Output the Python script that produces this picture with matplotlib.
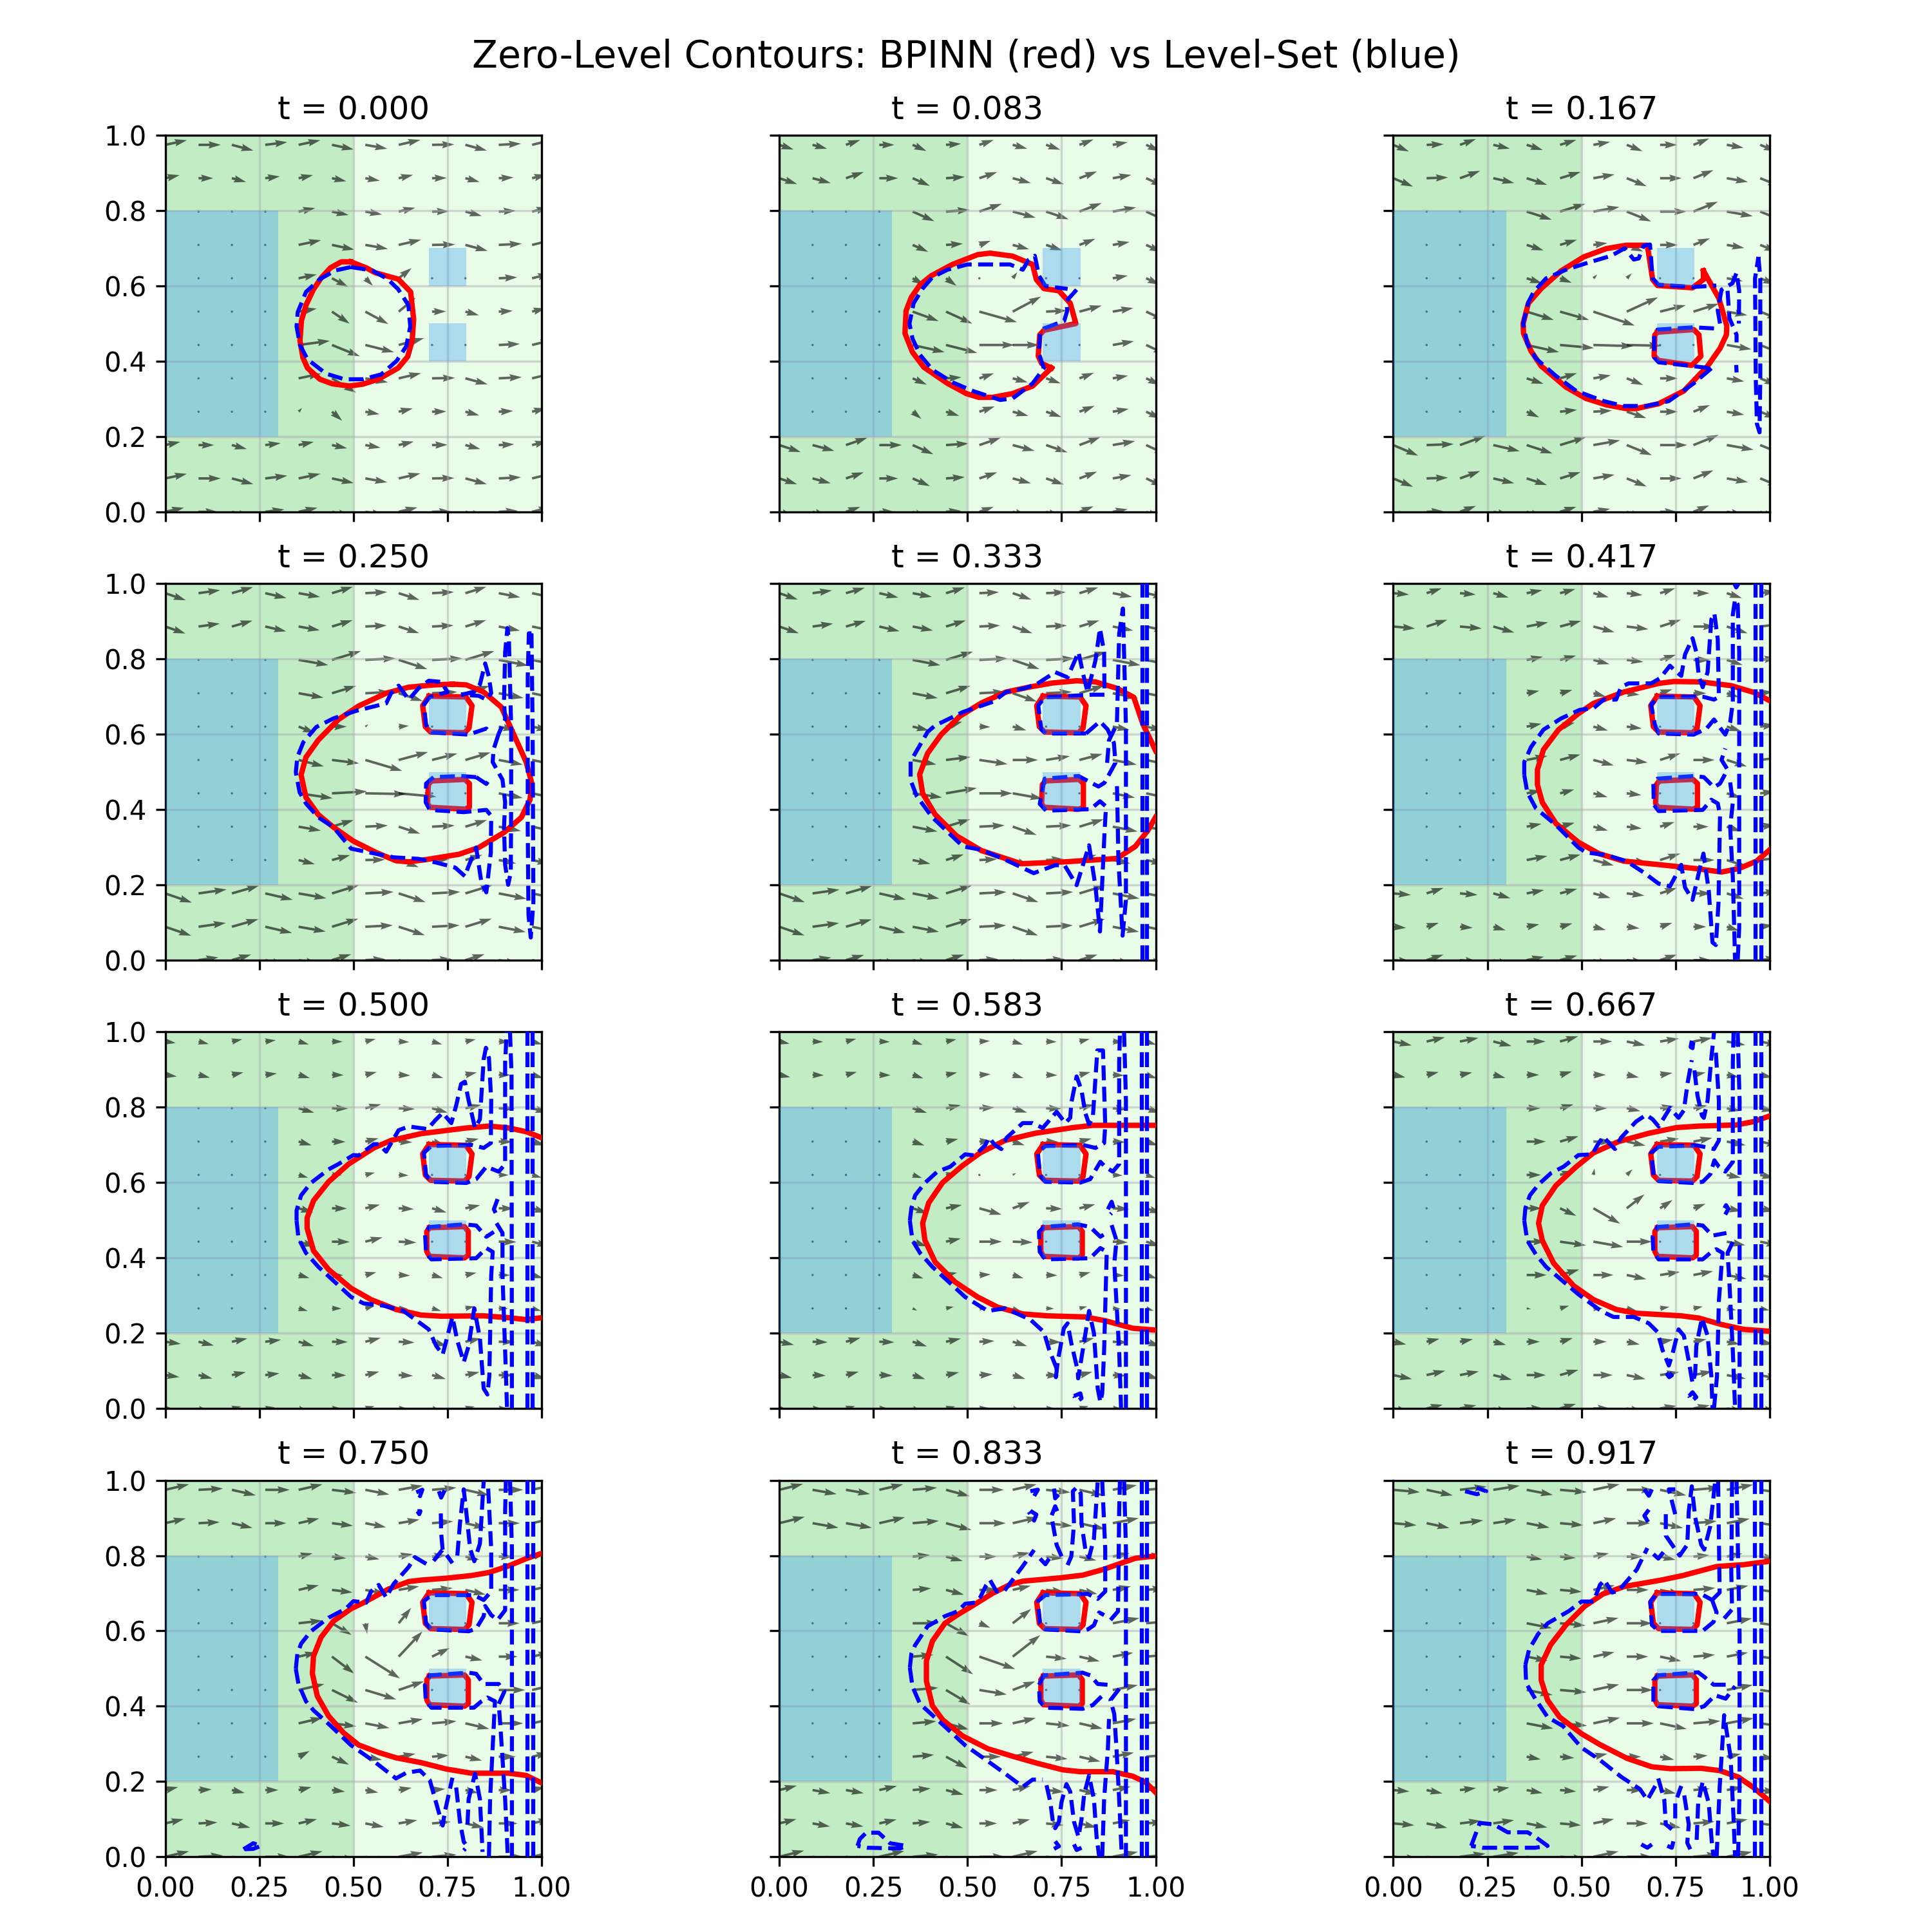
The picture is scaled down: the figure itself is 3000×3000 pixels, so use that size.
import numpy as np
import matplotlib
matplotlib.use("Agg")
import matplotlib.pyplot as plt
from matplotlib.patches import Rectangle

times = [0.0, 0.083, 0.167, 0.25, 0.333, 0.417, 0.5, 0.583, 0.667, 0.75, 0.833, 0.917]

# red contour around the two small boxes, shared by the later frames
red_box_top = [(.701,.701),(.799,.699),(.815,.676),(.807,.616),(.795,.604),(.705,.606),(.691,.620),(.684,.676),(.701,.701)]
red_box_low_a = [(.707,.476),(.796,.480),(.808,.469),(.808,.406),(.796,.401),(.703,.406),(.697,.416),(.699,.466),(.707,.476)]
red_box_low_b = [(.702,.480),(.795,.483),(.805,.470),(.805,.407),(.795,.400),(.702,.404),(.695,.417),(.695,.470),(.702,.480)]

# t = 0.000
red_0 = [[(.493,.664),(.468,.664),(.439,.648),(.415,.622),(.394,.591),(.374,.549),(.362,.508),(.358,.454),(.366,.409),(.378,.382),(.411,.352),(.444,.340),(.489,.334),(.525,.339),(.566,.352),(.619,.382),(.644,.412),(.656,.454),(.660,.511),(.652,.584),(.619,.618),(.558,.635),(.534,.648),(.493,.664)]]
blue_0 = [[(.493,.650),(.452,.641),(.411,.618),(.374,.584),(.352,.530),(.349,.492),(.358,.443),(.378,.405),(.427,.367),(.476,.352),(.525,.352),(.574,.365),(.615,.401),(.640,.439),(.651,.492),(.646,.549),(.619,.591),(.591,.618),(.550,.641),(.493,.650)]]
dir_0 = [12,0,-15,7,12,-12,-10,13,1,-15,3,14]
len_0 = [.051,.059,.041,.038,.061,.056,.037,.049,.061,.045,.039,.059]
fix_0 = [(7,5,.043,-.023),(7,6,.020,-.020),(7,7,.034,.027),(6,4,.048,.008),(6,5,.047,-.032),(6,6,.061,-.033),(6,7,.045,.037),
         (5,4,.083,.011),(5,5,.074,-.030),(5,6,.076,-.019),(5,7,.067,.018),(4,5,.064,-.038),(3,4,.009,.010),(3,5,.027,-.024)]

# t = 0.083
red_1 = [[(.723,.382),(.673,.334),(.620,.314),(.567,.304),(.530,.304),(.497,.314),(.447,.341),(.384,.384),(.354,.424),(.334,.474),(.337,.534),(.351,.570),(.374,.603),(.404,.627),(.460,.657),(.527,.683),(.560,.687),(.620,.679),(.673,.657),(.683,.617),(.703,.593),(.743,.587),(.773,.554),(.788,.500),(.703,.482),(.692,.470),(.688,.414),(.697,.394),(.723,.382)]]
blue_1 = [[(.790,.590),(.763,.560),(.765,.534),(.757,.507),(.703,.487),(.693,.474),(.690,.420),(.703,.381),(.673,.341),(.620,.301),(.587,.297),(.514,.321),(.460,.344),(.407,.377),(.374,.417),(.354,.460),(.346,.500),(.357,.554),(.381,.593),(.407,.623),(.447,.643),(.500,.657),(.554,.657),(.613,.657),(.647,.643),(.663,.670),(.679,.680),(.690,.627),(.707,.600),(.766,.592)]]
dir_1 = [-18,-15,19,0,-24,4,19,-15,-19,21,10,-25]
len_1 = [.040,.050,.060,.043,.041,.057,.055,.040,.045,.063,.050,.040]
fix_1 = [(6,4,.069,-.025),(6,5,.070,-.032),(6,6,.100,-.028),(6,7,.075,.040),(6,8,.055,.003),(6,9,.059,.016),
         (5,4,.085,-.019),(5,5,.083,-.021),(5,6,.093,0),(5,7,.070,0),(7,4,.030,-.017),(7,5,.028,-.020),(7,6,.006,.001),(7,7,.012,.016),
         (3,4,.023,-.019),(3,5,.035,-.011),(8,6,.030,.011)]

# t = 0.167
red_2 = [[(.824,.640),(.865,.567),(.886,.494),(.885,.470),(.868,.434),(.835,.387),(.772,.321),(.705,.287),(.645,.274),(.619,.274),(.566,.284),(.512,.301),(.459,.331),(.393,.387),(.366,.427),(.346,.474),(.345,.500),(.359,.554),(.393,.593),(.446,.640),(.506,.677),(.566,.699),(.619,.708),(.675,.708),(.689,.617),(.702,.601),(.795,.595),(.824,.617),(.824,.640)],
         [(.702,.477),(.798,.484),(.812,.470),(.817,.413),(.793,.389),(.705,.402),(.693,.414),(.695,.470),(.702,.477)]]
blue_2 = [[(.845,.381),(.798,.341),(.732,.294),(.672,.281),(.612,.281),(.559,.294),(.486,.321),(.432,.361),(.379,.407),(.356,.447),(.345,.500),(.359,.557),(.373,.584),(.406,.620),(.459,.643),(.512,.660),(.579,.680),(.615,.700),(.639,.670),(.652,.673),(.665,.707),(.682,.710),(.689,.620),(.705,.603),(.795,.597),(.858,.601)],
          [(.852,.487),(.798,.490),(.702,.484),(.693,.470),(.693,.410),(.705,.397),(.795,.387),(.845,.381)],
          [(.868,.500),(.862,.535),(.872,.590),(.901,.607),(.912,.635),(.919,.587),(.918,.500)],
          [(.888,.587),(.893,.514),(.912,.470),(.912,.450)],
          [(.911,.390),(.912,.370)],
          [(.970,.677),(.975,.620),(.975,.354),(.973,.211),(.966,.234),(.963,.354),(.961,.620),(.970,.677)]]
dir_2 = [-23,2,20,-13,-18,17,10,-22,0,22,-10,-22]
len_2 = [.045,.057,.072,.047,.047,.066,.055,.043,.047,.070,.057,.045]
fix_2 = [(6,4,.072,-.022),(6,5,.077,-.022),(6,6,.110,-.037),(6,7,.083,.038),(6,8,.068,.017),(6,9,.067,.021),
         (5,4,.086,-.019),(5,5,.090,-.008),(5,6,.106,-.003),(5,7,.092,-.002),(7,5,.031,-.012),(7,6,.010,.010),(7,7,.013,.013),
         (3,4,.033,-.015),(3,5,.045,.005),(3,6,.049,.003),(3,7,.052,-.017),(8,6,.037,.005)]

# t = 0.250
red_3 = [[(.763,.733),(.800,.731),(.846,.712),(.893,.672),(.926,.599),(.959,.526),(.974,.469),(.969,.426),(.946,.379),(.900,.339),(.833,.299),(.780,.281),(.693,.267),(.647,.261),(.613,.264),(.560,.286),(.500,.316),(.447,.353),(.407,.386),(.374,.432),(.361,.492),(.374,.539),(.407,.585),(.460,.639),(.514,.675),(.587,.709),(.647,.725),(.713,.731),(.763,.733)],
         red_box_top, red_box_low_a]
blue_3 = [[(.796,.223),(.770,.246),(.720,.259),(.673,.269),(.607,.273),(.567,.281),(.494,.296),(.447,.353),(.407,.379),(.374,.416),(.357,.446),(.347,.499),(.351,.539),(.367,.579),(.401,.619),(.447,.642),(.507,.662),(.587,.682),(.600,.709),(.620,.729),(.647,.692),(.673,.722),(.700,.742),(.733,.739),(.750,.712),(.703,.699),(.687,.679),(.693,.625),(.707,.605),(.806,.599),(.853,.615),(.866,.602)],
          [(.786,.705),(.820,.712),(.836,.732),(.850,.788),(.860,.752),(.866,.709),(.853,.692),(.833,.702),(.786,.705)],
          [(.886,.602),(.872,.559),(.870,.526),(.896,.479),(.903,.419),(.900,.353),(.903,.253),(.911,.200),(.918,.233),(.919,.419),(.919,.619),(.913,.852),(.909,.882),(.903,.818),(.900,.685),(.903,.639),(.886,.602)],
          [(.826,.486),(.786,.489),(.713,.486),(.693,.469),(.692,.419),(.703,.399),(.793,.393),(.853,.399),(.866,.383),(.865,.286),(.853,.180),(.840,.206),(.826,.299),(.806,.250),(.796,.223)],
          [(.826,.486),(.853,.468),(.866,.486)],
          [(.973,.868),(.976,.619),(.978,.153),(.971,.060),(.965,.120),(.963,.353),(.963,.752),(.966,.868),(.973,.868)]]
dir_3 = [-19,8,16,-13,-10,17,3,-18,3,17,-11,-12]
len_3 = [.053,.073,.075,.047,.060,.065,.065,.045,.067,.080,.057,.058]
fix_3 = [(6,4,.067,-.017),(6,5,.072,-.009),(6,6,.098,-.029),(6,7,.078,.021),(6,8,.067,.017),(6,9,.067,.020),
         (5,4,.090,-.013),(5,5,.093,.005),(5,6,.108,-.002),(5,7,.100,-.009),(7,4,.043,-.017),(7,5,.039,0),(7,6,.008,.006),(7,7,.027,.002),
         (3,4,.043,-.011),(3,5,.048,.013),(3,6,.052,.001),(3,7,.053,-.019)]

# t = 0.333
red_4 = [[(1.0,.556),(.966,.627),(.942,.698),(.897,.722),(.840,.739),(.790,.742),(.725,.736),(.668,.726),(.602,.712),(.537,.683),(.480,.648),(.430,.599),(.394,.549),(.373,.493),(.381,.443),(.414,.387),(.471,.330),(.537,.291),(.643,.256),(.758,.261),(.897,.270),(.946,.302),(.979,.344),(1.0,.380)],
         red_box_top, red_box_low_a]
blue_4 = [[(.815,.602),(.852,.634),(.872,.613),(.889,.577),(.893,.524),(.864,.471),(.848,.461),(.795,.489),(.705,.482),(.692,.415),(.709,.397),(.827,.401),(.852,.422),(.868,.408),(.864,.337),(.852,.076),(.840,.196),(.823,.305),(.790,.199),(.758,.252),(.733,.252),(.676,.231),(.602,.266),(.537,.293),(.488,.302),(.406,.380),(.365,.436),(.349,.478),(.349,.528),(.394,.606),(.414,.623),(.488,.659),(.570,.687),(.602,.712),(.651,.722),(.684,.733),(.733,.765),(.766,.751),(.795,.818),(.807,.761),(.819,.712),(.840,.796),(.852,.881),(.863,.818),(.864,.705),(.831,.705),(.705,.698),(.688,.676),(.696,.613),(.709,.602),(.815,.602)],
          [(.871,.524),(.876,.584),(.897,.627),(.903,.867),(.913,.934),(.921,.620),(.921,.160),(.912,.065),(.901,.266),(.897,.475)],
          [(.965,0),(.965,1)], [(.977,0),(.977,1)]]
dir_4 = [-19,8,16,-13,-11,17,3,-19,3,17,-11,-12]
len_4 = [.050,.071,.072,.047,.067,.060,.065,.045,.068,.075,.055,.052]
fix_4 = [(6,4,.063,-.012),(6,5,.065,.008),(6,6,.075,-.011),(6,7,.067,0),(6,8,.063,.010),(6,9,.061,.016),
         (5,4,.078,-.011),(5,5,.082,.014),(5,6,.088,0),(5,7,.079,-.014),(7,4,.043,-.010),(7,6,.029,-.001),(7,7,.036,-.010),
         (3,4,.047,-.010),(3,5,.047,.015)]

# t = 0.417
red_5 = [[(1.0,.689),(.958,.711),(.898,.729),(.818,.739),(.745,.740),(.705,.735),(.612,.712),(.532,.682),(.492,.655),(.439,.612),(.399,.559),(.383,.506),(.383,.466),(.396,.419),(.432,.363),(.492,.313),(.546,.283),(.612,.263),(.712,.253),(.805,.243),(.872,.234),(.918,.243),(.965,.263),(1.0,.293)],
         red_box_top, red_box_low_a]
blue_5 = [[(.348,.492),(.356,.446),(.379,.403),(.432,.359),(.492,.299),(.512,.286),(.566,.279),(.619,.263),(.665,.233),(.705,.203),(.735,.196),(.755,.233),(.765,.253),(.775,.193),(.795,.160),(.815,.246),(.824,.283),(.838,.186),(.848,.047),(.857,.040),(.864,.153),(.868,.386),(.862,.416),(.845,.426),(.822,.399),(.705,.396),(.692,.413),(.691,.469),(.702,.482),(.798,.489),(.825,.486),(.852,.459),(.868,.469),(.888,.506),(.872,.532),(.882,.562)],
          [(.348,.492),(.348,.526),(.366,.566),(.399,.612),(.446,.642),(.496,.665),(.532,.669),(.559,.692),(.592,.692),(.605,.725),(.625,.735),(.685,.735),(.709,.749),(.735,.782),(.749,.768),(.765,.755),(.775,.812),(.795,.855),(.805,.818),(.812,.752),(.822,.725),(.835,.765),(.845,.905),(.853,.921),(.862,.852),(.865,.699),(.852,.692),(.825,.699),(.805,.700),(.705,.699),(.685,.679),(.695,.625),(.705,.602),(.798,.599),(.832,.615),(.852,.639),(.872,.612),(.882,.599),(.895,.632),(.902,.685),(.902,.918),(.908,.958),(.915,.945),(.919,.818),(.919,.086),(.915,0)],
          [(.895,.472),(.902,.419),(.895,.353),(.902,.220),(.908,0)],
          [(.906,1),(.911,.99),(.917,1)],
          [(.963,0),(.963,1)], [(.977,0),(.977,1)]]
dir_5 = [-5,18,-5,-16,11,15,-15,-7,18,0,-18,7]
len_5 = [.047,.034,.047,.056,.040,.039,.056,.040,.034,.044,.058,.042]
fix_5 = []

# t = 0.500
red_6 = [[(1.0,.719),(.959,.735),(.913,.745),(.860,.750),(.800,.745),(.680,.730),(.600,.712),(.554,.692),(.487,.649),(.434,.602),(.394,.552),(.377,.506),(.377,.479),(.394,.419),(.434,.369),(.494,.319),(.547,.289),(.613,.263),(.680,.248),(.733,.245),(.846,.246),(.913,.241),(.959,.236),(1.0,.241)],
         red_box_top, red_box_low_b]
blue_6 = [[(.349,.499),(.354,.452),(.374,.413),(.407,.376),(.494,.296),(.527,.279),(.580,.273),(.633,.259),(.700,.210),(.720,.166),(.737,.143),(.763,.243),(.776,.180),(.793,.123),(.806,.166),(.821,.266),(.836,.186),(.846,.053),(.856,.037),(.861,.086),(.866,.353),(.870,.416),(.853,.426),(.826,.399),(.707,.396),(.693,.413),(.690,.469),(.703,.482),(.793,.489),(.826,.486),(.853,.456),(.873,.469)],
          [(.349,.499),(.349,.526),(.361,.566),(.387,.599),(.434,.635),(.460,.649),(.500,.673),(.514,.672),(.554,.702),(.567,.702),(.587,.682),(.620,.739),(.647,.749),(.697,.742),(.717,.765),(.737,.785),(.760,.758),(.773,.805),(.786,.862),(.796,.868),(.806,.818),(.823,.745),(.836,.768),(.846,.928),(.852,.958),(.860,.931),(.866,.818),(.865,.705),(.846,.692),(.813,.700),(.707,.697),(.687,.679),(.693,.619),(.707,.602),(.800,.599),(.826,.609),(.853,.642),(.886,.629),(.903,.649),(.903,.918),(.907,1)],
          [(.916,1),(.920,.885),(.921,0)],
          [(.880,.492),(.896,.466),(.896,.353),(.903,.153),(.908,0)],
          [(.883,.556),(.873,.529),(.883,.509)],
          [(.963,0),(.963,1)], [(.976,0),(.976,1)]]
dir_6 = [-8,-14,12,7,-16,-1,14,-3,-16,12,-1,-16]
len_6 = [.025,.038,.042,.025,.030,.047,.040,.026,.036,.043,.031,.028]
fix_6 = []

# t = 0.583
red_7 = [[(1.0,.752),(.913,.752),(.833,.752),(.780,.746),(.680,.731),(.600,.712),(.534,.679),(.487,.645),(.434,.600),(.397,.546),(.381,.492),(.387,.447),(.414,.389),(.467,.336),(.527,.296),(.580,.269),(.647,.251),(.713,.246),(.813,.243),(.866,.233),(.939,.213),(1.0,.208)],
         red_box_top, red_box_low_b]
blue_7 = [[(.347,.499),(.354,.446),(.374,.413),(.407,.376),(.494,.296),(.554,.259),(.600,.266),(.667,.236),(.703,.203),(.717,.156),(.737,.106),(.735,.083),(.740,.126),(.756,.213),(.766,.226),(.776,.173),(.793,.100),(.794,.080),(.806,.153),(.823,.259),(.836,.200),(.846,.053),(.853,.017),(.858,.040),(.863,.153),(.870,.416),(.853,.426),(.826,.399),(.707,.396),(.692,.416),(.690,.469),(.703,.482),(.793,.489),(.826,.482),(.853,.456),(.873,.469)],
          [(.883,.487),(.896,.446),(.890,.386),(.903,.153),(.908,0)],
          [(.873,.529),(.883,.549),(.890,.526),(.880,.516)],
          [(.783,.033),(.800,.040),(.803,.027),(.793,.020),(.783,.033)],
          [(.347,.499),(.351,.532),(.361,.566),(.387,.599),(.420,.629),(.454,.642),(.494,.675),(.520,.672),(.547,.699),(.557,.719),(.574,.699),(.590,.689),(.604,.719),(.647,.758),(.673,.758),(.700,.745),(.737,.788),(.760,.758),(.773,.772),(.776,.812),(.790,.882),(.803,.845),(.813,.785),(.823,.755),(.833,.772),(.845,.951),(.860,.951),(.866,.752),(.863,.705),(.840,.692),(.806,.700),(.707,.697),(.687,.679),(.693,.619),(.707,.602),(.800,.600),(.826,.609),(.853,.655),(.866,.642),(.886,.629),(.903,.649),(.903,.918),(.905,1)],
          [(.916,1),(.921,.818),(.921,0)],
          [(.963,0),(.963,1)], [(.977,0),(.977,1)]]
dir_7 = [-12,-2,15,-2,-18,12,3,-17,-2,14,-3,-18]
len_7 = [.025,.035,.040,.021,.030,.040,.043,.026,.033,.040,.030,.028]
fix_7 = [(6,6,.059,-.017),(6,7,.045,.017),(5,6,.060,0),(5,7,.053,-.002),(7,6,.002,0),(7,7,.009,.005),(3,4,.012,-.006)]

# t = 0.667
red_8 = [[(1.0,.777),(.958,.762),(.911,.753),(.812,.750),(.752,.746),(.679,.731),(.599,.709),(.532,.679),(.486,.642),(.432,.592),(.396,.539),(.386,.492),(.396,.446),(.426,.386),(.479,.326),(.532,.289),(.592,.263),(.645,.253),(.765,.246),(.812,.240),(.872,.223),(.931,.210),(1.0,.205)],
         red_box_top, red_box_low_b]
blue_8 = [[(.348,.499),(.356,.446),(.379,.409),(.406,.376),(.492,.303),(.552,.259),(.585,.243),(.639,.243),(.679,.226),(.702,.203),(.715,.156),(.732,.114),(.742,.146),(.758,.210),(.772,.193),(.785,.126),(.795,.067),(.802,.093),(.805,.166),(.820,.240),(.835,.193),(.845,.086),(.848,0)],
          [(.852,0),(.860,.086),(.865,.286),(.872,.379),(.875,.413),(.858,.423),(.842,.413),(.822,.396),(.705,.396),(.691,.416),(.689,.456),(.702,.482),(.795,.489),(.822,.486),(.848,.459),(.885,.466)],
          [(.902,.442),(.888,.413),(.892,.353),(.902,.153),(.908,0)],
          [(.348,.499),(.351,.532),(.363,.566),(.386,.595),(.419,.625),(.452,.642),(.492,.673),(.529,.675),(.542,.699),(.558,.722),(.576,.702),(.589,.689),(.605,.719),(.645,.762),(.672,.780),(.689,.768),(.705,.749),(.735,.798),(.758,.772),(.772,.792),(.782,.865),(.793,.925)],
          [(.800,.898),(.808,.832),(.820,.778),(.825,.772),(.835,.818),(.845,.931),(.852,.998)],
          [(.857,.945),(.865,.818),(.865,.712),(.852,.689),(.825,.695),(.805,.699),(.705,.695),(.685,.679),(.692,.619),(.705,.604),(.795,.599),(.822,.602),(.842,.622),(.853,.659),(.865,.642),(.882,.629),(.902,.655),(.902,.918),(.904,1)],
          [(.915,1),(.920,.818),(.920,0)],
          [(.880,.532),(.884,.540),(.890,.530),(.882,.515)],
          [(.786,.033),(.795,.043),(.805,.030),(.793,.020),(.786,.033)],
          [(.733,.094),(.740,.088),(.733,.083),(.728,.090),(.733,.094)],
          [(.793,.977),(.790,.960),(.795,.957),(.797,.973)],
          [(.963,0),(.963,1)], [(.977,0),(.977,1)]]
dir_8 = [-12,13,11,-14,0,16,0,-12,9,11,-11,-12]
len_8 = [.044,.051,.035,.025,.053,.050,.040,.038,.051,.037,.033,.050]
fix_8 = [(6,5,.043,-.020),(6,6,.071,-.041),(6,7,.047,.037),(6,8,.033,.022),(6,9,.032,.012),(5,5,.069,-.010),(5,6,.079,-.014),(5,7,.067,0),
         (7,6,.003,.017),(7,7,.015,.015),(3,4,.011,-.002)]

# t = 0.750
red_9 = [[(1.0,.806),(.959,.792),(.913,.773),(.860,.755),(.813,.747),(.747,.740),(.680,.735),(.647,.731),(.593,.711),(.527,.675),(.494,.659),(.447,.626),(.414,.583),(.394,.533),(.391,.487),(.404,.427),(.434,.374),(.474,.329),(.514,.297),(.567,.277),(.613,.263),(.680,.250),(.747,.233),(.813,.222),(.913,.222),(.959,.216),(1.0,.196)],
         red_box_top, red_box_low_b]
blue_9 = [[(.347,.499),(.354,.459),(.374,.413),(.394,.389),(.434,.353),(.494,.296),(.554,.254),(.613,.208),(.640,.223),(.677,.229),(.703,.203),(.717,.153),(.733,.096),(.737,.083),(.743,.120),(.763,.210)],
          [(.773,.184),(.783,.093),(.793,.040),(.803,.027),(.793,.017)],
          [(.803,.086),(.806,.153),(.823,.221),(.836,.153),(.843,.013)],
          [(.860,0),(.863,.153),(.873,.353),(.876,.413),(.856,.423),(.840,.413),(.820,.396),(.707,.396),(.692,.416),(.690,.456),(.703,.482),(.806,.489),(.826,.486),(.846,.459),(.886,.459),(.901,.439),(.886,.406),(.890,.353),(.903,.153),(.910,0)],
          [(.347,.499),(.351,.539),(.361,.566),(.387,.599),(.434,.635),(.480,.659),(.500,.679),(.534,.675),(.547,.705),(.567,.722),(.587,.689),(.607,.725),(.647,.770),(.663,.796),(.707,.770)],
          [(.713,.786),(.737,.816),(.763,.780)],
          [(.737,.816),(.733,.860),(.732,.920)],
          [(.776,.800),(.783,.886),(.793,.976),(.803,.886),(.810,.818),(.821,.785),(.836,.832),(.846,.998)],
          [(.858,.978),(.866,.818),(.866,.705),(.846,.682),(.820,.695),(.707,.695),(.687,.679),(.693,.619),(.707,.604),(.806,.599),(.826,.606),(.846,.639),(.850,.666),(.866,.642),(.883,.629),(.903,.655),(.903,.918),(.905,1)],
          [(.916,1),(.921,.818),(.921,0)],
          [(.667,.968),(.683,.975),(.677,.958),(.667,.968)],
          [(.670,.918),(.678,.918),(.675,.910),(.670,.918)],
          [(.727,.971),(.733,.954),(.743,.975)],
          [(.208,.020),(.234,.036),(.254,.029),(.234,.021),(.208,.020)],
          [(.963,0),(.963,1)], [(.977,0),(.977,1)]]
dir_9 = [13,3,-13,0,13,-7,-11,10,5,-13,0,13]
len_9 = [.065,.050,.035,.045,.065,.070,.050,.055,.055,.038,.056,.065]
fix_9 = [(6,5,.059,-.045),(6,6,.092,-.058),(6,7,.063,.067),(6,8,.047,.023),(6,9,.045,-.010),(5,5,.069,-.034),(5,6,.082,-.025),(5,7,.067,.023),
         (7,6,.005,-.028),(7,7,.033,.041),(7,5,.052,-.031),(7,4,.063,.007),(3,4,.029,.015),(3,5,.045,-.021)]

# t = 0.833
red_10 = [[(1.0,.799),(.946,.793),(.906,.779),(.860,.763),(.806,.748),(.747,.741),(.647,.732),(.613,.723),(.567,.700),(.514,.667),(.474,.643),(.440,.620),(.407,.573),(.391,.520),(.391,.467),(.407,.401),(.434,.364),(.487,.321),(.554,.287),(.620,.267),(.687,.248),(.753,.231),(.800,.226),(.886,.226),(.939,.214),(.973,.198),(1.0,.171)],
          red_box_top, red_box_low_b]
blue_10 = [[(.347,.502),(.354,.452),(.374,.406),(.407,.376),(.494,.296),(.554,.254),(.593,.226),(.647,.186),(.673,.205),(.700,.205)],
           [(.710,.190),(.720,.146),(.727,.093),(.733,.076),(.743,.093),(.750,.146),(.763,.193),(.773,.173),(.783,.093),(.795,.053),(.803,.100),(.810,.166),(.823,.216),(.836,.153),(.843,.053),(.850,0)],
           [(.858,0),(.863,.153),(.873,.286),(.876,.366)],
           [(.903,.446),(.880,.416),(.890,.379),(.896,.286),(.903,.153),(.910,0)],
           [(.856,.426),(.833,.403),(.806,.393),(.707,.396),(.692,.413),(.690,.456),(.703,.482),(.806,.489),(.826,.482),(.846,.459),(.883,.456)],
           [(.347,.502),(.351,.539),(.361,.562),(.394,.612),(.440,.639),(.474,.652),(.494,.672),(.520,.675),(.534,.689),(.550,.722),(.560,.735),(.577,.705),(.597,.705),(.627,.745),(.647,.772),(.677,.815)],
           [(.693,.792),(.707,.777),(.717,.792)],
           [(.750,.798),(.737,.828),(.723,.905),(.733,.931),(.743,.908)],
           [(.766,.775),(.776,.798),(.783,.885),(.780,.971),(.790,.981),(.801,.965),(.803,.885),(.813,.818),(.823,.795),(.836,.845),(.846,.998)],
           [(.858,.998),(.866,.818),(.866,.705),(.846,.685),(.820,.698),(.707,.695),(.687,.679),(.693,.619),(.707,.604),(.800,.599),(.820,.604),(.836,.615),(.850,.649),(.863,.642)],
           [(.880,.629),(.900,.652),(.903,.918),(.905,1)],
           [(.916,1),(.921,.818),(.921,0)],
           [(.208,.029),(.214,.047),(.231,.064),(.264,.064),(.294,.036),(.337,.029),(.321,.022),(.234,.024),(.208,.029)],
           [(.667,.971),(.687,.975),(.677,.958),(.667,.971)],
           [(.667,.919),(.683,.909),(.677,.893),(.663,.916)],
           [(.730,.978),(.733,.952),(.747,.968)],
           [(.733,.041),(.743,.028),(.730,.021)],
           [(.783,.033),(.790,.018),(.803,.024)],
           [(.963,0),(.963,1)], [(.977,0),(.977,1)]]
dir_10 = [14,-10,-10,13,5,-15,0,13,-6,-13,11,5]
len_10 = [.068,.047,.048,.057,.063,.068,.055,.072,.049,.046,.070,.065]
fix_10 = [(6,5,.072,-.047),(6,6,.095,-.033),(6,7,.073,.057),(5,5,.065,-.039),(5,6,.073,-.012),(5,7,.060,.023),
          (7,4,.069,0),(7,5,.060,-.034),(7,6,.029,-.012),(7,7,.049,.038),(3,5,.057,-.031)]

# t = 0.917
red_11 = [[(1.0,.147),(.957,.184),(.916,.212),(.867,.229),(.818,.235),(.736,.234),(.687,.239),(.622,.261),(.549,.298),(.500,.327),(.442,.371),(.410,.416),(.393,.469),(.393,.510),(.418,.563),(.459,.616),(.508,.665),(.557,.698),(.614,.718),(.712,.735),(.769,.747),(.859,.771),(.932,.776),(1.0,.785)],
          red_box_top, red_box_low_b]
blue_11 = [[(.351,.510),(.353,.461),(.377,.420),(.410,.371),(.451,.347),(.500,.290),(.549,.257),(.606,.212),(.655,.180),(.675,.151),(.696,.188)],
           [(.704,.208),(.720,.151),(.724,.086),(.740,.073)],
           [(.749,.102),(.749,.143),(.765,.188)],
           [(.773,.163),(.785,.086),(.781,.037),(.789,.020)],
           [(.806,.045),(.810,.143),(.822,.200),(.838,.143),(.847,.029),(.851,0)],
           [(.859,0),(.867,.184),(.879,.376),(.896,.265),(.904,.102),(.908,0)],
           [(.916,0),(.920,.184),(.920,.592),(.912,.996)],
           [(.900,.996),(.898,.755),(.900,.657),(.879,.633)],
           [(.847,.682),(.859,.649),(.851,.624),(.822,.600),(.769,.600),(.704,.600),(.687,.616),(.683,.678),(.700,.698),(.818,.698),(.847,.682)],
           [(.883,.457),(.851,.457),(.826,.478),(.810,.490),(.704,.482),(.691,.469),(.691,.412),(.704,.400),(.802,.392),(.826,.400),(.855,.429),(.883,.420),(.908,.453)],
           [(.351,.510),(.361,.551),(.385,.592),(.410,.620),(.467,.653),(.500,.678),(.532,.678),(.549,.722),(.561,.735),(.581,.702),(.598,.706),(.647,.763),(.675,.820)],
           [(.691,.804),(.704,.792),(.720,.812)],
           [(.749,.910),(.732,.976),(.749,.976)],
           [(.724,.910),(.724,.853),(.744,.824),(.761,.800),(.781,.829),(.785,.918),(.793,.984),(.802,.902),(.818,.829),(.826,.816),(.842,.878),(.855,.996)],
           [(.863,.996),(.867,.702),(.847,.682)],
           [(.667,.976),(.679,.959),(.687,.976)],
           [(.679,.922),(.667,.906),(.679,.886)],
           [(.191,.971),(.222,.963),(.247,.971),(.222,.980)],
           [(.659,.033),(.675,.024),(.687,.033)],
           [(.728,.029),(.740,.024),(.744,.041)],
           [(.207,.029),(.230,.090),(.267,.086),(.304,.065),(.357,.065),(.377,.053),(.410,.029),(.377,.024),(.238,.024),(.207,.029)],
           [(.961,0),(.961,1)], [(.977,0),(.977,1)]]
dir_11 = [-5,-12,7,9,-11,-5,12,0,-12,5,11,-8]
len_11 = [.068,.056,.043,.038,.072,.070,.057,.068,.058,.042,.062,.071]
fix_11 = []

red_lines = [red_0, red_1, red_2, red_3, red_4, red_5, red_6, red_7, red_8, red_9, red_10, red_11]
blue_lines = [blue_0, blue_1, blue_2, blue_3, blue_4, blue_5, blue_6, blue_7, blue_8, blue_9, blue_10, blue_11]
arrow_dirs = [dir_0, dir_1, dir_2, dir_3, dir_4, dir_5, dir_6, dir_7, dir_8, dir_9, dir_10, dir_11]
arrow_lens = [len_0, len_1, len_2, len_3, len_4, len_5, len_6, len_7, len_8, len_9, len_10, len_11]
arrow_fixes = [fix_0, fix_1, fix_2, fix_3, fix_4, fix_5, fix_6, fix_7, fix_8, fix_9, fix_10, fix_11]

# quiver sample points
grid = np.linspace(0, 1, 80)[::7]
X, Y = np.meshgrid(grid, grid)

obstacle_color = (44/255, 150/255, 250/255)

fig, axes = plt.subplots(4, 3, figsize=(10, 10), sharex=True, sharey=True)

for i, ax in enumerate(axes.flat):
    # permeability background
    ax.axvspan(0, 0.5, color="#C1ECC4", lw=0, zorder=0)
    ax.axvspan(0.5, 1, color="#E8FCE8", lw=0, zorder=0)

    # velocity field, no flow inside the obstacles
    ang = np.radians(arrow_dirs[i])
    U = np.outer(arrow_lens[i], np.cos(ang))
    V = np.outer(arrow_lens[i], np.sin(ang))
    U[3:10, 0:4] = 0
    V[3:10, 0:4] = 0
    for r in (5, 7):
        U[r, 8:10] = 0
        V[r, 8:10] = 0
    for r, c, u, v in arrow_fixes[i]:
        U[r, c] = u
        V[r, c] = v
    ax.quiver(X, Y, U, V, angles="xy", scale_units="xy", scale=1, width=0.0065, color="k", alpha=0.6, zorder=1)

    for line in red_lines[i]:
        xs, ys = zip(*line)
        ax.plot(xs, ys, color="r", lw=2, zorder=3)
    for line in blue_lines[i]:
        xs, ys = zip(*line)
        ax.plot(xs, ys, color="b", lw=1.5, ls="--", zorder=4)

    # obstacles sit on top of everything
    for x0, y0, w, h in [(0, 0.2, 0.3, 0.6), (0.7, 0.6, 0.1, 0.1), (0.7, 0.4, 0.1, 0.1)]:
        ax.add_patch(Rectangle((x0, y0), w, h, facecolor=obstacle_color, edgecolor="none", alpha=0.32, zorder=5))

    ax.set_xlim(0, 1)
    ax.set_ylim(0, 1)
    ax.set_aspect("equal")
    ax.grid(True, alpha=0.5)
    ax.set_title(f"t = {times[i]:.3f}")

fig.suptitle("Zero-Level Contours: BPINN (red) vs Level-Set (blue)", fontsize=14, y=0.98)
fig.subplots_adjust(left=0.0855, right=0.916, top=0.9302, bottom=0.0387, wspace=0.631, hspace=0.188)
fig.savefig("out.png", dpi=300)
